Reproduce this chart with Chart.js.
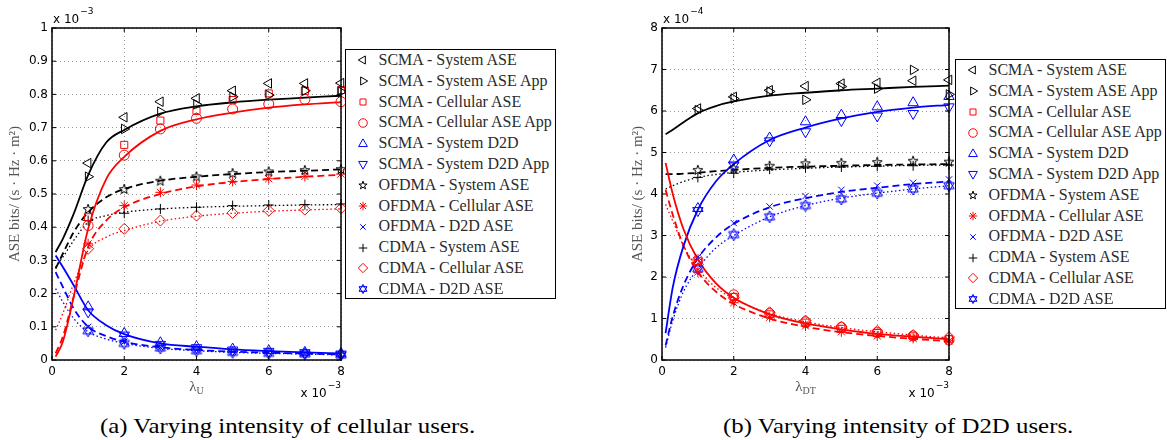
<!DOCTYPE html>
<html>
<head>
<meta charset="utf-8">
<title>ASE vs intensity</title>
<script src="https://cdn.jsdelivr.net/npm/chart.js@4.4.1/dist/chart.umd.min.js"></script>
<style>
    body { margin: 0; width: 1167px; height: 440px; background: #fff; position: relative; overflow: hidden; }
    canvas.plot { position: absolute; top: 0; }
    #chartA { left: 0; }
    #chartB { left: 583px; }
    .legend { position: absolute; width: 211px; height: 250px; box-sizing: border-box; background: #fff;
              border: 1.5px solid #000; font-family: "Liberation Serif", serif; font-size: 16px; color: #2a2a2a; }
    .legend .row { position: absolute; left: 0; height: 20.8px; line-height: 20.8px; white-space: nowrap; padding-left: 32.5px; }
    .legend .row canvas { position: absolute; left: 6.5px; top: 0.4px; }
    .caption { position: absolute; top: 413px; font-family: "Liberation Serif", serif; font-size: 22px; color: #000;
               white-space: nowrap; transform: scaleX(1.13); transform-origin: left top; }
</style>
</head>
<body>
<canvas id="chartA" class="plot" width="583" height="400"></canvas>
<canvas id="chartB" class="plot" width="584" height="400"></canvas>
<div id="legendA" class="legend" style="left:345px; top:49px;"></div>
<div id="legendB" class="legend" style="left:955px; top:59px;"></div>
<div class="caption" style="left:100px;">(a) Varying intensity of cellular users.</div>
<div class="caption" style="left:723px;">(b) Varying intensity of D2D users.</div>

<script>
// x positions (units of 1e-3)
const xSim = [1, 2, 3, 4, 5, 6, 7, 8];
const xCurve = [0.1, 0.3, 0.6, 1, 1.5, 2, 3, 4, 5, 6, 7, 8];

const legendLabels = [
    'SCMA - System ASE', 'SCMA - System ASE App', 'SCMA - Cellular ASE', 'SCMA - Cellular ASE App',
    'SCMA - System D2D', 'SCMA - System D2D App', 'OFDMA - System ASE', 'OFDMA - Cellular ASE',
    'OFDMA - D2D ASE', 'CDMA - System ASE', 'CDMA - Cellular ASE', 'CDMA - D2D ASE'
];

// ---- panel (a): varying cellular users, y in 1e-3 ----
const aScmaSys     = [0.593, 0.731, 0.778, 0.788, 0.811, 0.833, 0.833, 0.834];
const aScmaSysApp  = [0.552, 0.696, 0.748, 0.770, 0.793, 0.798, 0.811, 0.808];
const aScmaCell    = [0.430, 0.648, 0.721, 0.750, 0.783, 0.803, 0.811, 0.813];
const aScmaCellApp = [0.405, 0.617, 0.696, 0.728, 0.756, 0.771, 0.785, 0.778];
const aScmaD2d     = [0.160, 0.080, 0.052, 0.040, 0.033, 0.028, 0.023, 0.020];
const aScmaD2dApp  = [0.145, 0.075, 0.047, 0.037, 0.030, 0.026, 0.022, 0.018];
const aOfdmaSys    = [0.455, 0.515, 0.540, 0.553, 0.563, 0.568, 0.572, 0.575];
const aOfdmaCell   = [0.350, 0.465, 0.505, 0.527, 0.538, 0.546, 0.553, 0.560];
const aOfdmaD2d    = [0.100, 0.055, 0.038, 0.030, 0.025, 0.022, 0.019, 0.016];
const aCdmaSys     = [0.420, 0.442, 0.455, 0.460, 0.465, 0.467, 0.468, 0.470];
const aCdmaCell    = [0.335, 0.395, 0.420, 0.435, 0.443, 0.450, 0.453, 0.457];
const aCdmaD2d     = [0.088, 0.050, 0.036, 0.028, 0.023, 0.020, 0.018, 0.015];

const aScmaSysLine   = [0.325, 0.365, 0.440, 0.557, 0.655, 0.693, 0.742, 0.764, 0.776, 0.784, 0.790, 0.796];
const aScmaCellLine  = [0.010, 0.055, 0.190, 0.395, 0.545, 0.612, 0.690, 0.725, 0.745, 0.760, 0.770, 0.777];
const aScmaD2dLine   = [0.315, 0.280, 0.225, 0.150, 0.105, 0.078, 0.050, 0.040, 0.032, 0.027, 0.023, 0.020];
const aOfdmaSysLine  = [0.275, 0.320, 0.385, 0.445, 0.490, 0.515, 0.540, 0.552, 0.560, 0.566, 0.570, 0.574];
const aOfdmaCellLine = [0.020, 0.070, 0.190, 0.340, 0.420, 0.460, 0.500, 0.523, 0.536, 0.545, 0.552, 0.558];
const aOfdmaD2dLine  = [0.265, 0.220, 0.155, 0.100, 0.072, 0.055, 0.038, 0.030, 0.025, 0.022, 0.019, 0.017];
const aCdmaSysLine   = [0.280, 0.310, 0.360, 0.415, 0.435, 0.445, 0.455, 0.460, 0.463, 0.465, 0.467, 0.468];
const aCdmaCellLine  = [0.090, 0.140, 0.230, 0.330, 0.370, 0.390, 0.418, 0.433, 0.442, 0.448, 0.452, 0.455];
const aCdmaD2dLine   = [0.215, 0.175, 0.125, 0.085, 0.063, 0.050, 0.035, 0.028, 0.023, 0.020, 0.018, 0.015];

// ---- panel (b): varying D2D users, y in 1e-4 ----
const bScmaSys     = [6.06, 6.34, 6.50, 6.60, 6.66, 6.68, 6.73, 6.75];
const bScmaSysApp  = [6.02, 6.30, 6.47, 6.27, 6.59, 6.54, 6.99, 6.40];
const bScmaCell    = [2.38, 1.52, 1.10, 0.90, 0.75, 0.65, 0.57, 0.50];
const bScmaCellApp = [2.41, 1.57, 1.12, 0.92, 0.79, 0.66, 0.58, 0.48];
const bScmaD2d     = [3.65, 4.82, 5.35, 5.74, 5.90, 6.10, 6.20, 6.35];
const bScmaD2dApp  = [3.60, 4.70, 5.28, 5.50, 5.77, 5.88, 5.94, 6.10];
const bOfdmaSys    = [4.58, 4.62, 4.68, 4.74, 4.75, 4.77, 4.80, 4.78];
const bOfdmaCell   = [2.12, 1.38, 1.03, 0.82, 0.68, 0.58, 0.52, 0.46];
const bOfdmaD2d    = [2.48, 3.30, 3.70, 3.95, 4.10, 4.20, 4.27, 4.35];
const bCdmaSys     = [4.40, 4.50, 4.60, 4.63, 4.65, 4.67, 4.68, 4.70];
const bCdmaCell    = [2.30, 1.50, 1.15, 0.95, 0.80, 0.70, 0.60, 0.55];
const bCdmaD2d     = [2.20, 3.02, 3.45, 3.72, 3.88, 4.02, 4.12, 4.20];

const bScmaSysLine   = [5.44, 5.55, 5.73, 5.95, 6.12, 6.23, 6.37, 6.44, 6.50, 6.54, 6.58, 6.61];
const bScmaCellLine  = [4.75, 4.00, 3.15, 2.42, 1.85, 1.50, 1.10, 0.88, 0.74, 0.63, 0.56, 0.50];
const bScmaD2dLine   = [0.65, 1.75, 2.75, 3.62, 4.30, 4.72, 5.30, 5.60, 5.82, 5.98, 6.08, 6.15];
const bOfdmaSysLine  = [4.48, 4.48, 4.49, 4.51, 4.55, 4.58, 4.63, 4.66, 4.68, 4.70, 4.71, 4.72];
const bOfdmaCellLine = [4.10, 3.50, 2.75, 2.12, 1.65, 1.35, 1.00, 0.80, 0.67, 0.58, 0.51, 0.45];
const bOfdmaD2dLine  = [0.35, 1.05, 1.80, 2.45, 2.95, 3.28, 3.68, 3.90, 4.05, 4.15, 4.24, 4.30];
const bCdmaSysLine   = [4.12, 4.20, 4.30, 4.40, 4.47, 4.52, 4.58, 4.62, 4.65, 4.67, 4.69, 4.70];
const bCdmaCellLine  = [3.75, 3.35, 2.75, 2.20, 1.75, 1.48, 1.12, 0.92, 0.78, 0.68, 0.60, 0.53];
const bCdmaD2dLine   = [0.30, 0.95, 1.65, 2.20, 2.70, 3.00, 3.45, 3.72, 3.90, 4.02, 4.12, 4.20];

// custom marker shapes (small canvases used as pointStyle)
function pentagram(color, r) {
    const c = document.createElement('canvas');
    c.width = 14; c.height = 14;
    const ctx = c.getContext('2d');
    ctx.strokeStyle = color; ctx.lineWidth = 1;
    ctx.beginPath();
    for (let i = 0; i < 10; i++) {
        const rr = i % 2 === 0 ? r : r * 0.4;
        const a = -Math.PI / 2 + i * Math.PI / 5;
        const px = 7 + rr * Math.cos(a), py = 7.4 + rr * Math.sin(a);
        if (i === 0) ctx.moveTo(px, py); else ctx.lineTo(px, py);
    }
    ctx.closePath(); ctx.stroke();
    return c;
}

function hexagram(color, r) {
    const c = document.createElement('canvas');
    c.width = 16; c.height = 16;
    const ctx = c.getContext('2d');
    ctx.strokeStyle = color; ctx.lineWidth = 1;
    [-Math.PI / 2, Math.PI / 2].forEach(start => {
        ctx.beginPath();
        for (let i = 0; i < 3; i++) {
            const a = start + i * 2 * Math.PI / 3;
            const px = 8 + r * Math.cos(a), py = 8 + r * Math.sin(a);
            if (i === 0) ctx.moveTo(px, py); else ctx.lineTo(px, py);
        }
        ctx.closePath(); ctx.stroke();
    });
    return c;
}

const BLACK = '#000000', RED = '#ff0000', BLUE = '#0000ff';

const markerStyles = [
    { color: BLACK, style: 'triangle', rot: -90, r: 5.5 },
    { color: BLACK, style: 'triangle', rot: 90, r: 5.5 },
    { color: RED, style: 'rect', rot: 0, r: 5 },
    { color: RED, style: 'circle', rot: 0, r: 5 },
    { color: BLUE, style: 'triangle', rot: 0, r: 6 },
    { color: BLUE, style: 'triangle', rot: 180, r: 6 },
    { color: BLACK, style: pentagram(BLACK, 5.2), legend: pentagram(BLACK, 4.3), rot: 0, r: 6 },
    { color: RED, style: 'star', rot: 0, r: 5 },
    { color: BLUE, style: 'crossRot', rot: 0, r: 4.5 },
    { color: BLACK, style: 'cross', rot: 0, r: 5 },
    { color: RED, style: 'rectRot', rot: 0, r: 5.5 },
    { color: BLUE, style: hexagram(BLUE, 6), legend: hexagram(BLUE, 4.6), rot: 0, r: 6 }
];

const dashes = { solid: [], dashed: [7, 4], dotted: [1.5, 2.5] };

function markerSet(values, k) {
    const m = markerStyles[k];
    return {
        label: legendLabels[k],
        data: xSim.map((x, i) => ({ x: x, y: values[i] })),
        showLine: false,
        pointStyle: m.style,
        pointRotation: m.rot,
        pointRadius: m.r,
        pointBorderWidth: 1,
        pointBorderColor: m.color,
        pointBackgroundColor: 'rgba(0,0,0,0)',
        borderColor: m.color,
        clip: false
    };
}

function curveSet(values, color, kind) {
    return {
        label: '',
        data: xCurve.map((x, i) => ({ x: x, y: values[i] })),
        borderColor: color,
        borderWidth: kind === 'dotted' ? 1.3 : 1.8,
        borderDash: dashes[kind],
        pointRadius: 0,
        fill: false,
        cubicInterpolationMode: 'monotone',
        clip: false
    };
}

// frame, inner ticks, exponent labels and axis titles
const axesDecor = {
    id: 'axesDecor',
    afterDraw(chart, args, opts) {
        const { ctx, chartArea: a, scales } = chart;
        ctx.save();
        ctx.setLineDash([]);
        ctx.strokeStyle = '#000';
        ctx.lineWidth = 1;
        ctx.beginPath();
        scales.x.ticks.forEach(t => {
            const px = scales.x.getPixelForValue(t.value);
            ctx.moveTo(px, a.bottom); ctx.lineTo(px, a.bottom - 4);
            ctx.moveTo(px, a.top); ctx.lineTo(px, a.top + 4);
        });
        scales.y.ticks.forEach(t => {
            const py = scales.y.getPixelForValue(t.value);
            ctx.moveTo(a.left, py); ctx.lineTo(a.left + 4, py);
            ctx.moveTo(a.right, py); ctx.lineTo(a.right - 4, py);
        });
        ctx.stroke();
        ctx.lineWidth = 1.5;
        ctx.strokeRect(a.left, a.top, a.right - a.left, a.bottom - a.top);

        // exponent labels
        ctx.fillStyle = '#000';
        ctx.textBaseline = 'alphabetic';
        const expLabel = (x, y, exp, alignRight) => {
            ctx.font = '12px "DejaVu Sans", sans-serif';
            const w1 = ctx.measureText('x 10').width;
            ctx.font = '9px "DejaVu Sans", sans-serif';
            const w2 = ctx.measureText(exp).width;
            const x0 = alignRight ? x - w1 - w2 - 1 : x;
            ctx.font = '12px "DejaVu Sans", sans-serif';
            ctx.textAlign = 'left';
            ctx.fillText('x 10', x0, y);
            ctx.font = '9px "DejaVu Sans", sans-serif';
            ctx.fillText(exp, x0 + w1 + 1, y - 9);
        };
        expLabel(a.left + 1, a.top - 5, opts.yExp, false);
        expLabel(a.right, 397, '\u22123', true);

        // x title with subscript
        ctx.fillStyle = '#555';
        ctx.font = '15px "Liberation Serif", serif';
        const wl = ctx.measureText('\u03bb').width;
        ctx.font = '10px "Liberation Serif", serif';
        const ws = ctx.measureText(opts.xSub).width;
        const cx = (a.left + a.right) / 2 - (wl + ws) / 2;
        ctx.font = '15px "Liberation Serif", serif';
        ctx.fillText('\u03bb', cx, 391);
        ctx.font = '10px "Liberation Serif", serif';
        ctx.fillText(opts.xSub, cx + wl, 394);

        // y title
        ctx.translate(opts.yTitleX, (a.top + a.bottom) / 2);
        ctx.rotate(-Math.PI / 2);
        ctx.textAlign = 'center';
        ctx.textBaseline = 'middle';
        ctx.font = '15px "Liberation Serif", serif';
        ctx.fillText('ASE bits/ (s \u00b7 Hz \u00b7 m\u00b2)', 0, 0);
        ctx.restore();
    }
};

function makeChart(id, markers, curves, yMax, yStep, padRight, decor) {
    const datasets = markers.map((v, k) => markerSet(v, k)).concat(curves);
    return new Chart(document.getElementById(id), {
        type: 'line',
        data: { datasets: datasets },
        plugins: [axesDecor],
        options: {
            responsive: false,
            animation: false,
            devicePixelRatio: 1,
            layout: { padding: { left: 0, top: 28, right: padRight, bottom: 20 } },
            plugins: {
                legend: { display: false },
                tooltip: { enabled: false },
                axesDecor: decor
            },
            scales: {
                x: {
                    type: 'linear', min: 0, max: 8,
                    afterFit: s => { s.height = 20; },
                    ticks: { stepSize: 2, padding: 5, color: '#000', font: { family: 'DejaVu Sans', size: 12 } },
                    grid: { color: '#9a9a9a', lineWidth: 1, drawTicks: false },
                    border: { display: false, dash: [1, 3] }
                },
                y: {
                    type: 'linear', min: 0, max: yMax,
                    afterFit: s => { s.width = decor.axisWidth; },
                    ticks: {
                        stepSize: yStep, padding: 4, color: '#000',
                        font: { family: 'DejaVu Sans', size: 12 },
                        callback: v => String(+v.toFixed(1))
                    },
                    grid: { color: '#9a9a9a', lineWidth: 1, drawTicks: false },
                    border: { display: false, dash: [1, 3] }
                }
            }
        }
    });
}

const chartA = makeChart('chartA',
    [aScmaSys, aScmaSysApp, aScmaCell, aScmaCellApp, aScmaD2d, aScmaD2dApp,
     aOfdmaSys, aOfdmaCell, aOfdmaD2d, aCdmaSys, aCdmaCell, aCdmaD2d],
    [curveSet(aScmaSysLine, BLACK, 'solid'), curveSet(aScmaCellLine, RED, 'solid'), curveSet(aScmaD2dLine, BLUE, 'solid'),
     curveSet(aOfdmaSysLine, BLACK, 'dashed'), curveSet(aOfdmaCellLine, RED, 'dashed'), curveSet(aOfdmaD2dLine, BLUE, 'dashed'),
     curveSet(aCdmaSysLine, BLACK, 'dotted'), curveSet(aCdmaCellLine, RED, 'dotted'), curveSet(aCdmaD2dLine, BLUE, 'dotted')],
    1, 0.1, 242,
    { axisWidth: 52, yExp: '\u22123', xSub: 'U', yTitleX: 15 });

const chartB = makeChart('chartB',
    [bScmaSys, bScmaSysApp, bScmaCell, bScmaCellApp, bScmaD2d, bScmaD2dApp,
     bOfdmaSys, bOfdmaCell, bOfdmaD2d, bCdmaSys, bCdmaCell, bCdmaD2d],
    [curveSet(bScmaSysLine, BLACK, 'solid'), curveSet(bScmaCellLine, RED, 'solid'), curveSet(bScmaD2dLine, BLUE, 'solid'),
     curveSet(bOfdmaSysLine, BLACK, 'dashed'), curveSet(bOfdmaCellLine, RED, 'dashed'), curveSet(bOfdmaD2dLine, BLUE, 'dashed'),
     curveSet(bCdmaSysLine, BLACK, 'dotted'), curveSet(bCdmaCellLine, RED, 'dotted'), curveSet(bCdmaD2dLine, BLUE, 'dotted')],
    8, 1, 218,
    { axisWidth: 79, yExp: '\u22124', xSub: 'DT', yTitleX: 55 });

// HTML legends, markers drawn with Chart.js' own point helper
function buildLegend(divId) {
    const box = document.getElementById(divId);
    legendLabels.forEach((text, k) => {
        const m = markerStyles[k];
        const row = document.createElement('div');
        row.className = 'row';
        row.style.top = (20.8 * k) + 'px';
        const cv = document.createElement('canvas');
        cv.width = 20; cv.height = 20;
        const ctx = cv.getContext('2d');
        ctx.strokeStyle = m.color;
        ctx.fillStyle = 'rgba(0,0,0,0)';
        ctx.lineWidth = 1;
        if (Chart.helpers && Chart.helpers.drawPoint) {
            Chart.helpers.drawPoint(ctx, { pointStyle: m.legend || m.style, rotation: m.rot, radius: m.r * 0.85, borderWidth: 1 }, 10, 10);
        }
        row.appendChild(cv);
        row.appendChild(document.createTextNode(text));
        box.appendChild(row);
    });
}
buildLegend('legendA');
buildLegend('legendB');
</script>
</body>
</html>
